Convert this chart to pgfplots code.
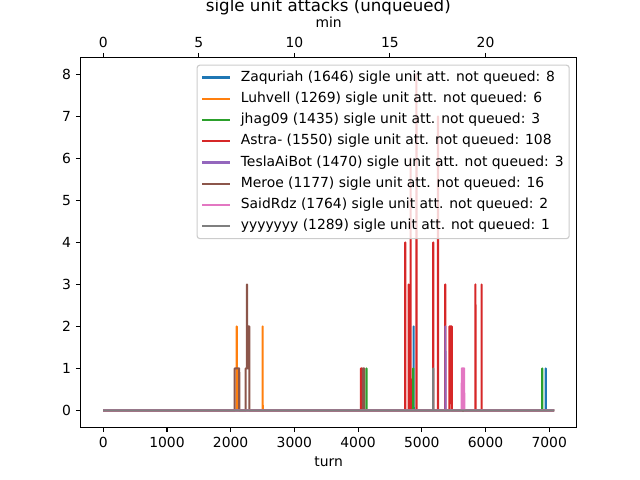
\documentclass[border=0pt]{standalone}
\usepackage{fontspec}
\setmainfont{DejaVu Sans}
\usepackage{pgfplots}
\pgfplotsset{compat=1.18}
\definecolor{c0}{HTML}{1F77B4}
\definecolor{c1}{HTML}{FF7F0E}
\definecolor{c2}{HTML}{2CA02C}
\definecolor{c3}{HTML}{D62728}
\definecolor{c4}{HTML}{9467BD}
\definecolor{c5}{HTML}{8C564B}
\definecolor{c6}{HTML}{E377C2}
\definecolor{c7}{HTML}{7F7F7F}
\begin{document}
\begin{tikzpicture}
\path[use as bounding box] (0,0) rectangle (460.8pt,345.6pt);
\clip (0,0) rectangle (460.8pt,345.6pt);
\begin{axis}[
  at={(58.1pt,38.0pt)}, anchor=south west, scale only axis,
  width=357.1pt, height=266.1pt,
  xmin=-353.85, xmax=7430.85, ymin=-0.4, ymax=8.4,
  xtick={0,1000,2000,3000,4000,5000,6000,7000}, ytick={0,1,2,3,4,5,6,7,8},
  xtick pos=left, ytick pos=left,
  tick align=outside, major tick length=3.5pt,
  every tick/.style={black, line width=0.8pt},
  axis line style={line width=0.8pt},
  tick label style={font=\fontsize{10}{12}\selectfont},
  label style={font=\fontsize{10}{12}\selectfont},
  /pgf/number format/assume math mode=true,
  /pgf/number format/set thousands separator={},
  xlabel={turn},
  legend cell align=left,
  legend style={at={(1,1)}, anchor=north east, xshift=-5pt, yshift=-5pt,
    draw=black!20, line width=0.8pt, fill=white, fill opacity=0.8, draw opacity=1, text opacity=1,
    rounded corners=2pt, inner xsep=3pt, inner ysep=3pt,
    font=\fontsize{10}{12}\selectfont, row sep=3.5pt, column sep=6pt,
    nodes={inner sep=1pt, text height=7.5pt, text depth=2.3pt}},
  legend image code/.code={\draw[#1, line width=1.5pt] (0pt,0pt) -- (20pt,0pt);},
  every axis plot/.append style={line width=1.5pt, line join=round},
]
\addplot[c0] coordinates {(0,0) (4871,0) (4872,2) (4873,0) (6945,0) (6946,1) (6947,0) (7077,0)};
\addlegendentry{Zaquriah (1646) sigle unit att. not queued: 8}
\addplot[c1] coordinates {(0,0) (2094,0) (2095,2) (2096,0) (2501,0) (2502,2) (2503,0) (7077,0)};
\addlegendentry{Luhvell (1269) sigle unit att. not queued: 6}
\addplot[c2] coordinates {(0,0) (4131,0) (4132,1) (4133,0) (4865,0) (4866,1) (4867,0) (6890,0) (6891,1) (6892,0) (7077,0)};
\addlegendentry{jhag09 (1435) sigle unit att. not queued: 3}
\addplot[c3] coordinates {(0,0) (4044,0) (4045,1) (4062,1) (4063,0)
  (4739,0) (4740,4) (4741,0)
  (4792,0) (4793,3) (4794,0)
  (4824,0) (4825,6) (4826,0)
  (4915,0) (4916,8) (4917,0)
  (5179,0) (5180,4) (5181,0)
  (5253,0) (5254,7) (5255,0)
  (5367,0) (5368,3) (5369,0)
  (5434,0) (5435,2) (5472,2) (5473,0)
  (5841,0) (5842,3) (5843,0)
  (5938,0) (5939,3) (5940,0)
  (7077,0)};
\addlegendentry{Astra- (1550) sigle unit att. not queued: 108}
\addplot[c4] coordinates {(0,0) (5370,0) (5371,2) (5372,0) (7077,0)};
\addlegendentry{TeslaAiBot (1470) sigle unit att. not queued: 3}
\addplot[c5] coordinates {(0,0) (2062,0) (2063,1) (2134,1) (2135,0)
  (2235,0) (2236,1) (2255,1) (2256,3) (2257,1) (2270,1) (2271,2) (2292,2) (2293,0)
  (4074,0) (4075,1) (4095,1) (4096,0) (7077,0)};
\addlegendentry{Meroe (1177) sigle unit att. not queued: 16}
\addplot[c6] coordinates {(0,0) (5627,0) (5628,1) (5665,1) (5666,0) (7077,0)};
\addlegendentry{SaidRdz (1764) sigle unit att. not queued: 2}
\addplot[c7] coordinates {(0,0) (5179,0) (5180,1) (5181,0) (7077,0)};
\addlegendentry{yyyyyyy (1289) sigle unit att. not queued: 1}
\end{axis}
\begin{axis}[
  at={(58.1pt,38.0pt)}, anchor=south west, scale only axis,
  width=357.1pt, height=266.1pt,
  xmin=-1.1795, xmax=24.7695, ymin=-0.4, ymax=8.4,
  axis x line*=top, axis y line=none,
  xtick={0,5,10,15,20},
  tick align=outside, major tick length=3.5pt,
  every tick/.style={black, line width=0.8pt},
  axis line style={line width=0.8pt},
  tick label style={font=\fontsize{10}{12}\selectfont},
  label style={font=\fontsize{10}{12}\selectfont},
  /pgf/number format/assume math mode=true,
  xlabel={min},
]
\end{axis}
\node[anchor=base, font=\fontsize{12}{14}\selectfont] at (236.4pt,337.3pt) {sigle unit attacks (unqueued)};
\end{tikzpicture}
\end{document}
